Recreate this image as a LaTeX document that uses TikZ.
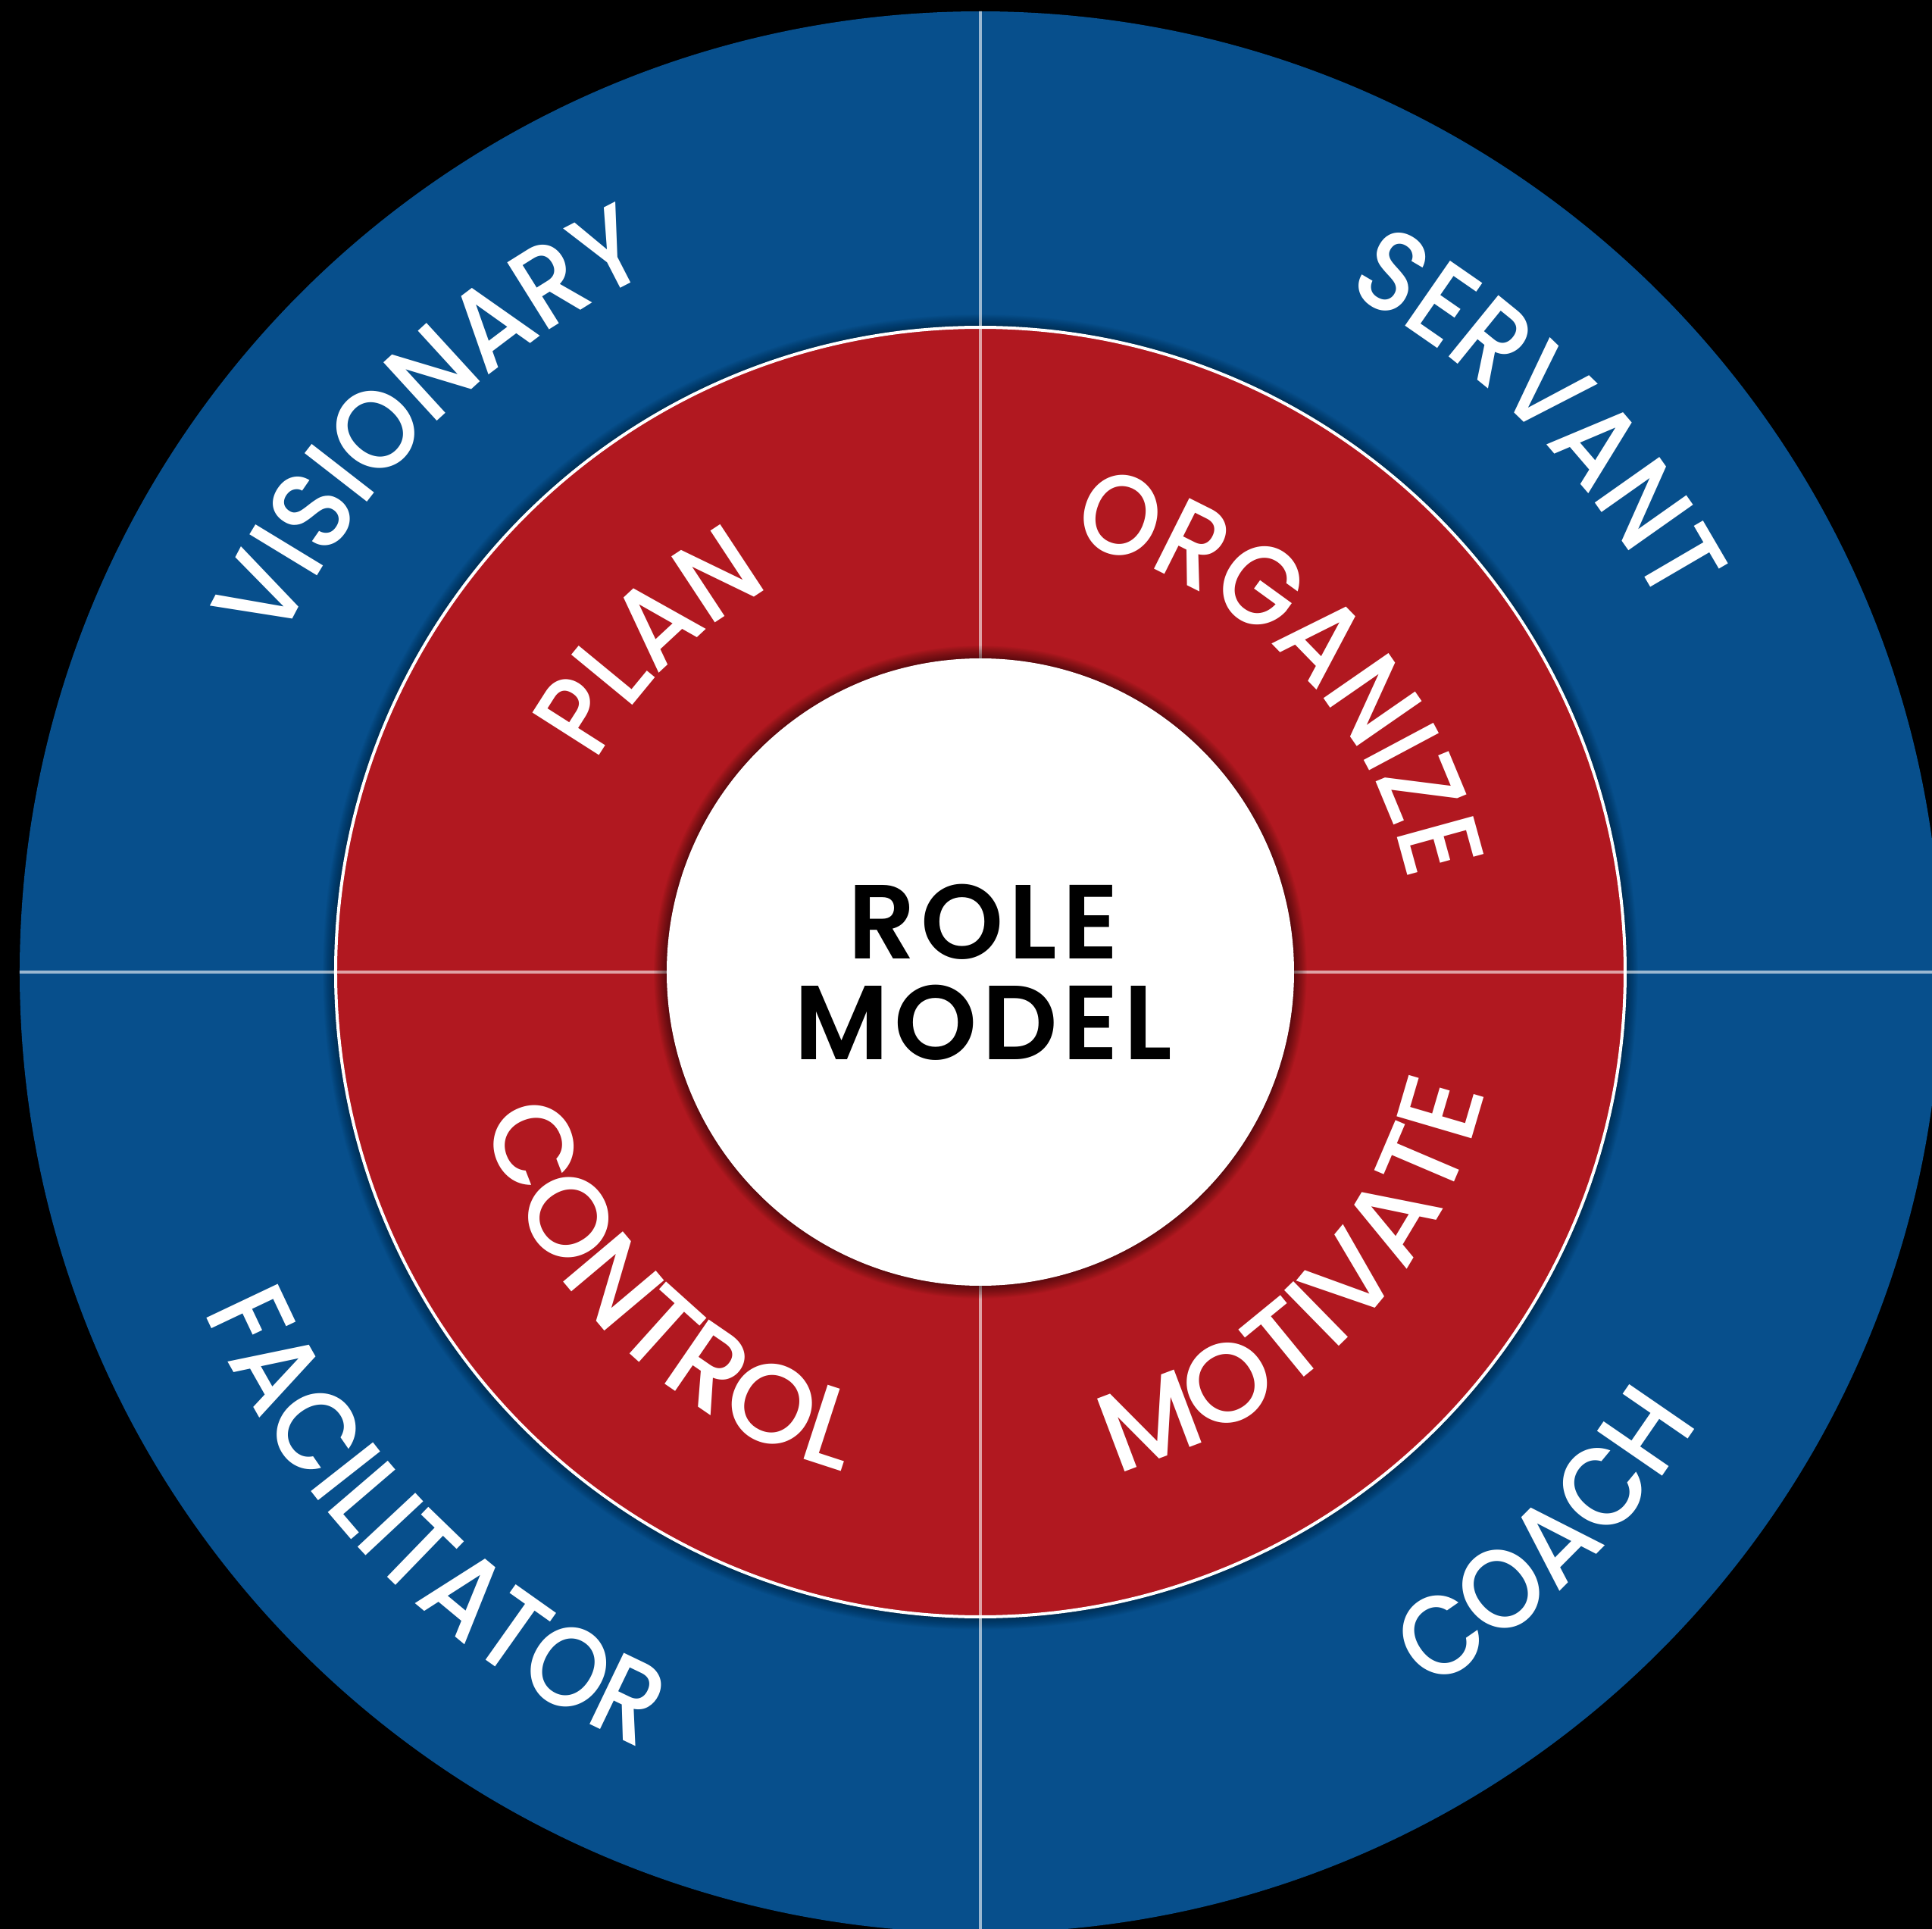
\documentclass[tikz,border=0pt]{standalone}
\usepackage{fontspec}
\setmainfont{Poppins}
\newfontfamily\labelfont[FakeStretch=0.9]{Poppins Medium}
\newfontfamily\widelabelfont{Poppins Medium}
\newfontfamily\corefont[LetterSpace=5]{Poppins SemiBold}
\usetikzlibrary{decorations.text}
\definecolor{ringblue}{RGB}{7,79,140}
\definecolor{ringred}{RGB}{177,24,32}
\tikzset{
  ringlabel/.style={decorate, decoration={text along path, text align=center, text color=white,
    text={|\labelfont\fontsize{15pt}{15pt}\selectfont|#1}}},
  widelabel/.style={decorate, decoration={text along path, text align=center, text color=white,
    text={|\widelabelfont\fontsize{14.8pt}{15pt}\selectfont|#1}}},
  divider/.style={draw=white, draw opacity=0.6, line width=0.45pt},
  glow/.style={fill=black, opacity=0.03},
  coreglow/.style={fill=black, opacity=0.04},
}
\begin{document}
\begin{tikzpicture}
\useasboundingbox (-129.4pt,-126.3pt) rectangle (125.6pt,128.3pt);
\fill[black] (-129.4pt,-126.3pt) rectangle (125.6pt,128.3pt);
\begin{scope}
  \clip (-129.4pt,-126.3pt) rectangle (125.6pt,128.3pt);
  % outer blue disc
  \fill[ringblue] (0,0) circle[radius=126.8pt];
  % shadow of the red ring
  \foreach \i in {1,...,14} \fill[glow] (0,0) circle[radius=85.1pt+\i*0.12pt];
  \fill[ringred] (0,0) circle[radius=85.1pt];
  % quadrant dividers
  \begin{scope}
    \clip (0,0) circle[radius=126.8pt];
    \coordinate (top) at (0,130pt);
    \coordinate (bottom) at (0,-130pt);
    \coordinate (left) at (-130pt,0);
    \coordinate (right) at (130pt,0);
    \draw[divider] (top) -- (bottom);
    \draw[divider] (left) -- (right);
  \end{scope}
  \draw[white, line width=0.4pt] (0,0) circle[radius=85.1pt];
  % shadow of the white core
  \foreach \i in {1,...,14} \fill[coreglow] (0,0) circle[radius=41.4pt+\i*0.12pt];
  \node[circle, fill=white, minimum size=82.8pt, inner sep=0pt] (core) at (0,0) {};
  \node[align=center, font=\corefont\fontsize{13.9pt}{13.3pt}\selectfont, text=black, inner sep=0pt] (role) at (0.4pt,0) {ROLE\\MODEL};
  % outer labels
  \path[ringlabel=VISIONARY] (195:102pt) arc[start angle=195, end angle=75, radius=102pt];
  \path[ringlabel=SERVANT] (105:102pt) arc[start angle=105, end angle=-15, radius=102pt];
  \path[ringlabel=FACILITATOR] (165:111.8pt) arc[start angle=165, end angle=285, radius=111.8pt];
  \path[ringlabel=COACH] (255:111.8pt) arc[start angle=255, end angle=375, radius=111.8pt];
  % inner labels
  \path[ringlabel=PLAN] (195:57.8pt) arc[start angle=195, end angle=75, radius=57.8pt];
  \path[ringlabel=ORGANIZE] (105:57.8pt) arc[start angle=105, end angle=-15, radius=57.8pt];
  \path[widelabel=CONTROL] (165.5:68.4pt) arc[start angle=165.5, end angle=285.5, radius=68.4pt];
  \path[widelabel=MOTIVATE] (256:68.4pt) arc[start angle=256, end angle=376, radius=68.4pt];
\end{scope}
\end{tikzpicture}
\end{document}
